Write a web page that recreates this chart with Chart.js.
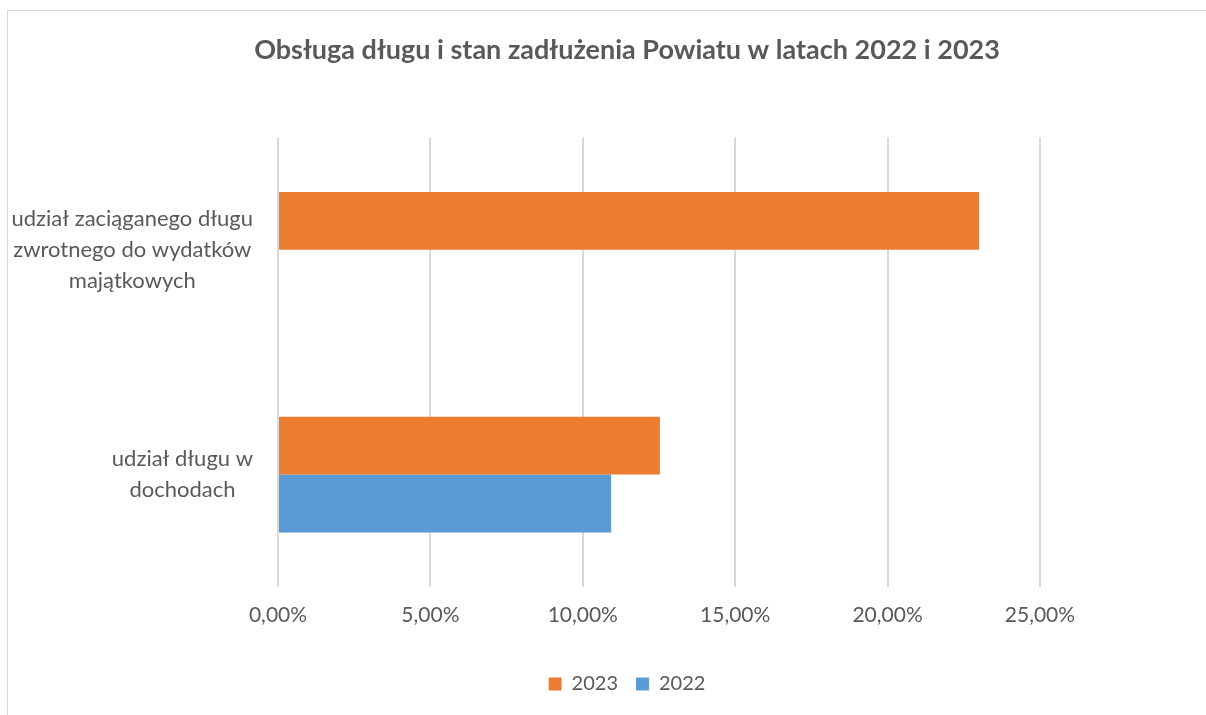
<!DOCTYPE html>
<html>
<head>
<meta charset="utf-8">
<script src="https://cdn.jsdelivr.net/npm/chart.js@4.4.0/dist/chart.umd.min.js"></script>
<style>
  html, body { margin: 0; padding: 0; background: #fff; overflow: hidden; }
  #frame { position: absolute; left: 7px; top: 10px; width: 1238px; height: 720px; border: 1px solid #d9d9d9; }
</style>
</head>
<body>
<div id="frame"><canvas id="chart" width="1238" height="705"></canvas></div>
<script>
const title = 'Obsługa długu i stan zadłużenia Powiatu w latach 2022 i 2023';
const categories = [
  ['udział zaciąganego długu', 'zwrotnego do wydatków', 'majątkowych'],
  ['udział długu w', 'dochodach']
];
const seriesNames = ['2023', '2022'];
const values2023 = [23.0, 12.53];
const values2022 = [null, 10.93];
const xTicks = [0, 5, 10, 15, 20, 25];

const FONT = 'Lato, "Open Sans", sans-serif';
const TEXT = '#595959';

// etykiety kategorii: blok wyrównany do prawej, linie wyśrodkowane
const catLabels = {
  id: 'catLabels',
  afterDraw(chart) {
    const ctx = chart.ctx;
    const y = chart.scales.y;
    const right = chart.chartArea.left - 25;
    const lh = 31;
    ctx.save();
    ctx.font = '22px ' + FONT;
    ctx.fillStyle = TEXT;
    ctx.textAlign = 'center';
    ctx.textBaseline = 'middle';
    categories.forEach((lines, i) => {
      const w = Math.max(...lines.map(l => ctx.measureText(l).width));
      const cx = right - w / 2;
      const cy = y.getPixelForTick(i);
      const top = cy - (lines.length - 1) * lh / 2;
      lines.forEach((l, k) => ctx.fillText(l, cx, top + k * lh));
    });
    ctx.restore();
  }
};

new Chart(document.getElementById('chart'), {
  type: 'bar',
  data: {
    labels: categories,
    datasets: [
      { label: seriesNames[0], data: values2023, backgroundColor: '#ED7D31', borderWidth: 0 },
      { label: seriesNames[1], data: values2022, backgroundColor: '#5B9BD5', borderWidth: 0 }
    ]
  },
  options: {
    indexAxis: 'y',
    responsive: false,
    animation: false,
    layout: { padding: { left: 0, right: 0, top: 0, bottom: 12 } },
    plugins: {
      title: {
        display: true,
        text: title,
        color: TEXT,
        font: { family: FONT, size: 27, weight: 'bold' },
        padding: { top: 23, bottom: 71 }
      },
      legend: {
        position: 'bottom',
        labels: {
          color: TEXT,
          font: { family: FONT, size: 20 },
          boxWidth: 13,
          boxHeight: 13,
          padding: 18
        }
      },
      tooltip: { enabled: false }
    },
    datasets: {
      bar: { categoryPercentage: 0.515, barPercentage: 1 }
    },
    scales: {
      x: {
        min: 0,
        // oś sięga poza ostatnią linię siatki (pusty margines po prawej, jak w Excelu)
        max: 31.76,
        afterBuildTicks: (s) => { s.ticks = xTicks.map(v => ({ value: v })); },
        afterFit: (s) => { s.height = 69; },
        ticks: {
          color: TEXT,
          font: { family: FONT, size: 21 },
          padding: 16,
          callback: (v) => v.toFixed(2).replace('.', ',') + '%'
        },
        grid: { color: '#d9d9d9', lineWidth: 2, drawTicks: false },
        border: { display: false }
      },
      y: {
        afterFit: (s) => { s.width = 270; },
        ticks: { display: false },
        grid: { display: false },
        border: { display: false }
      }
    }
  },
  plugins: [catLabels]
});
</script>
</body>
</html>
